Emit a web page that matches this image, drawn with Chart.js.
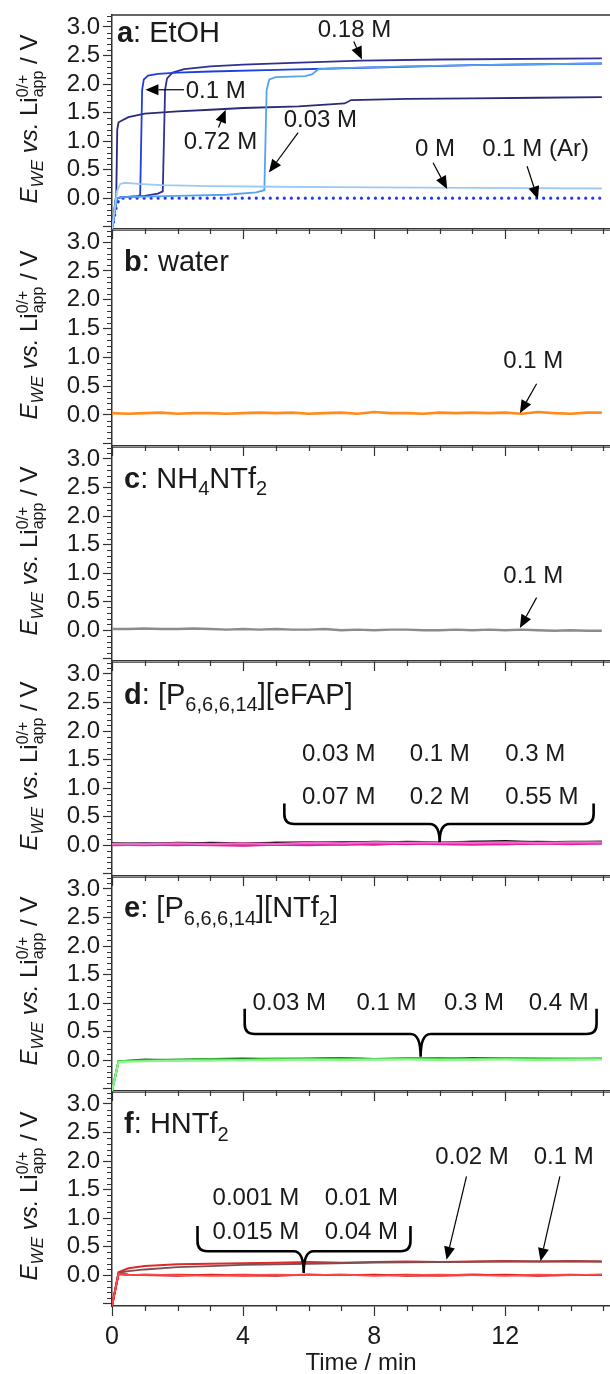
<!DOCTYPE html>
<html>
<head>
<meta charset="utf-8">
<script src="https://cdn.jsdelivr.net/npm/chart.js@4.4.1/dist/chart.umd.min.js"></script>
<style>
  html, body { margin: 0; padding: 0; background: #fff; overflow: hidden; }
  #wrap { position: relative; width: 610px; height: 1374px; }
  #wrap canvas { position: absolute; left: 0; }
</style>
</head>
<body>
<div id="wrap"></div>
<script>
const FONT = "'Liberation Sans', Arial, Helvetica, sans-serif";
const INK = '#1a1a1a';

// axes
const timeTicks = [0, 4, 8, 12];
const voltTicks = [-0.5, 0, 0.5, 1, 1.5, 2, 2.5, 3];
const timeMax = 15.2;
const voltMin = -0.54, voltMax = 3.21;

// a: EtOH  [time / min, E / V]
const etoh072M = [[0,-0.54],[0.1,-0.05],[0.13,0.05],[0.16,1.2],[0.2,1.33],[0.5,1.42],[1,1.48],[2,1.52],[3,1.55],[4,1.58],[5.7,1.61],[7.1,1.66],[7.3,1.72],[9,1.74],[11,1.75],[13,1.76],[14.95,1.77]];
const etoh01M = [[0,-0.54],[0.15,0.0],[0.3,0.02],[0.8,0.03],[0.86,0.06],[0.92,1.9],[0.97,2.08],[1.1,2.15],[1.4,2.18],[2,2.2],[3,2.22],[5,2.25],[8,2.29],[11,2.33],[14.95,2.36]];
const etoh018M = [[0,-0.54],[0.15,0.0],[0.3,0.02],[1,0.04],[1.4,0.08],[1.55,0.12],[1.62,1.9],[1.68,2.1],[1.85,2.2],[2.2,2.26],[3,2.31],[4,2.34],[5.5,2.37],[7.6,2.41],[10,2.43],[14.95,2.45]];
const etoh003M = [[0,-0.54],[0.15,0.0],[0.3,0.02],[2,0.04],[3.5,0.06],[4.4,0.1],[4.65,0.14],[4.72,1.9],[4.8,2.08],[5,2.12],[5.9,2.14],[6.1,2.17],[6.3,2.26],[7,2.28],[9,2.31],[12,2.34],[14.95,2.36]];
const etoh0M = [[0,-0.54],[0.1,-0.1],[0.15,0.12],[0.25,0.25],[0.4,0.27],[0.8,0.25],[1.5,0.23],[3,0.21],[5,0.2],[8,0.19],[11,0.18],[14.95,0.17]];
const etoh01MAr = [[0,-0.54],[0.15,-0.1],[0.25,0.0],[1,0.0],[5,0.0],[10,0.0],[14.95,0.0]];

// b: water
const water01M = [[0,0.03],[0.5,0.02],[1,0.03],[1.5,0.04],[2,0.02],[2.5,0.03],[3,0.03],[3.5,0.02],[4,0.03],[4.5,0.04],[5,0.03],[5.5,0.04],[6,0.02],[6.5,0.03],[7,0.04],[7.5,0.02],[8,0.05],[8.5,0.03],[9,0.03],[9.5,0.02],[10,0.04],[10.5,0.03],[11,0.04],[11.5,0.03],[12,0.04],[12.5,0.02],[13,0.05],[13.5,0.03],[14,0.02],[14.5,0.04],[14.95,0.04]];

// c: NH4NTf2
const nh4ntf201M = [[0,0.02],[0.5,0.02],[1,0.03],[1.5,0.02],[2,0.02],[2.5,0.03],[3,0.02],[3.5,0.01],[4,0.02],[4.5,0.01],[5,0.02],[5.5,0.01],[6,0.01],[6.5,0.02],[7,0.0],[7.5,0.01],[8,0.0],[8.5,0.01],[9,0.01],[9.5,0.0],[10,0.0],[10.5,0.01],[11,0.0],[11.5,0.01],[12,0.0],[12.5,0.01],[13,0.0],[13.5,-0.01],[14,0.0],[14.5,-0.01],[14.95,-0.01]];

// d: [P66614][eFAP]
const efap003M = [[0,0.02],[1,0.02],[2,0.03],[3,0.02],[4,0.03],[5,0.02],[6,0.04],[7,0.03],[8,0.05],[9,0.04],[10,0.05],[11,0.04],[12,0.05],[13,0.04],[14,0.05],[14.95,0.05]];
const efap007M = [[0,0.01],[1,0.0],[2,0.01],[3,0.0],[4,-0.01],[5,0.01],[6,0.0],[7,0.02],[8,0.01],[9,0.03],[10,0.02],[11,0.01],[12,0.02],[13,0.03],[14,0.02],[14.95,0.03]];
const efap01M = [[0,0.02],[1,0.03],[2,0.02],[3,0.04],[4,0.03],[5,0.04],[6,0.03],[7,0.05],[8,0.04],[9,0.06],[10,0.05],[11,0.06],[12,0.05],[13,0.06],[14,0.05],[14.95,0.06]];
const efap02M = [[0,0.0],[1,0.01],[2,0.0],[3,0.02],[4,0.0],[5,0.01],[6,0.02],[7,0.01],[8,0.03],[9,0.02],[10,0.04],[11,0.03],[12,0.02],[13,0.03],[14,0.04],[14.95,0.03]];
const efap03M = [[0,0.03],[1,0.02],[2,0.04],[3,0.03],[4,0.02],[5,0.04],[6,0.05],[7,0.04],[8,0.06],[9,0.05],[10,0.04],[11,0.06],[12,0.07],[13,0.05],[14,0.06],[14.95,0.06]];
const efap055M = [[0,0.01],[1,0.02],[2,0.01],[3,0.01],[4,0.03],[5,0.02],[6,0.01],[7,0.03],[8,0.02],[9,0.04],[10,0.03],[11,0.05],[12,0.04],[13,0.04],[14,0.03],[14.95,0.04]];

// e: [P66614][NTf2]
const ntf2003M = [[0,-0.54],[0.2,-0.03],[1,-0.02],[2,-0.01],[3,-0.01],[4,0.0],[5,0.0],[6,0.01],[7,0.0],[8,0.01],[9,0.01],[10,0.0],[11,0.01],[12,0.01],[13,0.0],[14,0.01],[14.95,0.01]];
const ntf201M = [[0,-0.54],[0.2,-0.02],[1,-0.01],[2,0.0],[3,0.01],[4,0.0],[5,0.02],[6,0.01],[7,0.02],[8,0.01],[9,0.02],[10,0.02],[11,0.01],[12,0.02],[13,0.02],[14,0.01],[14.95,0.02]];
const ntf203M = [[0,-0.54],[0.2,-0.02],[1,0.0],[2,0.01],[3,0.02],[4,0.01],[5,0.03],[6,0.02],[7,0.03],[8,0.02],[9,0.03],[10,0.04],[11,0.02],[12,0.03],[13,0.02],[14,0.03],[14.95,0.02]];
const ntf204M = [[0,-0.54],[0.2,-0.02],[1,0.01],[2,0.0],[3,0.02],[4,0.03],[5,0.02],[6,0.03],[7,0.04],[8,0.02],[9,0.03],[10,0.02],[11,0.04],[12,0.03],[13,0.03],[14,0.02],[14.95,0.03]];

// f: HNTf2
const hntf20001M = [[0,-0.54],[0.2,0.03],[0.5,0.0],[1,0.01],[2,0.0],[3,-0.01],[4,0.0],[5,0.01],[6,0.0],[7,0.01],[8,-0.01],[9,0.0],[10,0.01],[11,0.0],[12,-0.01],[13,0.01],[14,0.0],[14.95,0.01]];
const hntf2001M = [[0,-0.54],[0.2,0.02],[0.5,0.01],[1,0.0],[2,0.01],[3,0.0],[4,0.01],[5,0.0],[6,0.01],[7,0.0],[8,0.0],[9,0.01],[10,0.0],[11,0.01],[12,0.0],[13,0.0],[14,0.01],[14.95,0.0]];
const hntf20015M = [[0,-0.54],[0.2,0.03],[0.5,0.01],[1,0.0],[2,-0.01],[3,0.01],[4,0.0],[5,-0.01],[6,0.01],[7,0.0],[8,0.01],[9,-0.01],[10,0.0],[11,0.01],[12,0.0],[13,-0.01],[14,0.0],[14.95,0.01]];
const hntf2004M = [[0,-0.54],[0.2,0.02],[0.5,0.0],[1,0.01],[2,0.0],[3,0.0],[4,-0.01],[5,0.0],[6,0.0],[7,0.01],[8,0.0],[9,0.0],[10,-0.01],[11,0.0],[12,0.01],[13,0.0],[14,0.0],[14.95,0.0]];
const hntf2002M = [[0,-0.54],[0.2,0.04],[0.5,0.07],[1,0.1],[2,0.14],[3,0.16],[4,0.18],[6,0.2],[8,0.22],[10,0.23],[12,0.24],[14.95,0.24]];
const hntf201M = [[0,-0.54],[0.2,0.05],[0.5,0.12],[1,0.16],[2,0.19],[3,0.2],[4,0.21],[5,0.22],[6,0.23],[7,0.22],[8,0.23],[9,0.24],[10,0.23],[11,0.24],[12,0.25],[13,0.24],[14,0.25],[14.95,0.24]];

// panel frame tops/bottoms in page pixels
const panelTops = [15, 230, 447, 662, 877, 1092];
const panelBottoms = [229, 446, 661, 876, 1091, 1306];

const panels = [
  {
    label: [['a', 'b'], [': EtOH', 'n']], labelAt: [0.15, 2.745],
    series: [
      { data: etoh0M, color: '#9dcaf4' },
      { data: etoh003M, color: '#55a2f2' },
      { data: etoh01M, color: '#1f3ede' },
      { data: etoh018M, color: '#30308f' },
      { data: etoh072M, color: '#2a2a78' },
      { data: etoh01MAr, color: '#1f3cf0', width: 3.2, dash: [0.01, 7] }
    ],
    notes: [['0.18 M', 7.4, 2.83, 'center'], ['0.1 M', 2.25, 1.76, 'left'], ['0.72 M', 3.31, 0.855, 'center'],
            ['0.03 M', 6.36, 1.24, 'center'], ['0 M', 9.86, 0.74, 'center'], ['0.1 M (Ar)', 12.93, 0.74, 'center']],
    arrows: [[7.38, 2.745, 7.63, 2.43], [2.2, 1.9, 1.02, 1.9], [3.25, 1.24, 3.47, 1.55],
             [5.68, 1.15, 4.79, 0.45], [9.8, 0.62, 10.23, 0.16], [12.67, 0.56, 13.0, -0.02]],
    braces: []
  },
  {
    label: [['b', 'b'], [': water', 'n']], labelAt: [0.37, 2.5],
    series: [{ data: water01M, color: '#ff8a1e', width: 2.6 }],
    notes: [['0.1 M', 12.86, 0.82, 'center']],
    arrows: [[12.96, 0.54, 12.45, 0.03]],
    braces: []
  },
  {
    label: [['c', 'b'], [': NH', 'n'], ['4', 's'], ['NTf', 'n'], ['2', 's']], labelAt: [0.37, 2.5],
    series: [{ data: nh4ntf201M, color: '#8c8c8c', width: 2.4 }],
    notes: [['0.1 M', 12.86, 0.83, 'center']],
    arrows: [[12.96, 0.57, 12.45, 0.04]],
    braces: []
  },
  {
    label: [['d', 'b'], [': [P', 'n'], ['6,6,6,14', 's'], ['][eFAP]', 'n']], labelAt: [0.37, 2.48],
    series: [
      { data: efap003M, color: '#f06ac8', width: 2.2 }, { data: efap007M, color: '#d9259f', width: 2.2 },
      { data: efap01M, color: '#3a0a2c', width: 2.2 }, { data: efap02M, color: '#b01883', width: 2.2 },
      { data: efap03M, color: '#1f0518', width: 2.2 }, { data: efap055M, color: '#d21a98', width: 2.2 }
    ],
    notes: [['0.03 M', 5.8, 1.48, 'left'], ['0.1 M', 9.09, 1.48, 'left'], ['0.3 M', 12.0, 1.48, 'left'],
            ['0.07 M', 5.8, 0.72, 'left'], ['0.2 M', 9.09, 0.72, 'left'], ['0.55 M', 12.0, 0.72, 'left']],
    arrows: [],
    braces: [[5.26, 14.7, 10.0, 0.73, 0.37, 0.05]]
  },
  {
    label: [['e', 'b'], [': [P', 'n'], ['6,6,6,14', 's'], ['][NTf', 'n'], ['2', 's'], [']', 'n']], labelAt: [0.37, 2.51],
    series: [
      { data: ntf2003M, color: '#8cf58c', width: 2 }, { data: ntf201M, color: '#4cd64c', width: 2 },
      { data: ntf203M, color: '#2e9e2e', width: 2 }, { data: ntf204M, color: '#1d5e1d', width: 2 }
    ],
    notes: [['0.03 M', 4.29, 0.88, 'left'], ['0.1 M', 7.46, 0.88, 'left'], ['0.3 M', 10.13, 0.88, 'left'], ['0.4 M', 12.72, 0.88, 'left']],
    arrows: [],
    braces: [[4.05, 14.79, 9.42, 0.9, 0.46, 0.06]]
  },
  {
    label: [['f', 'b'], [': HNTf', 'n'], ['2', 's']], labelAt: [0.37, 2.49],
    series: [
      { data: hntf20001M, color: '#ff4a4a' }, { data: hntf2001M, color: '#e01414' },
      { data: hntf20015M, color: '#c00808' }, { data: hntf2004M, color: '#e42020' },
      { data: hntf2002M, color: '#7a5050' }, { data: hntf201M, color: '#e02a2a', width: 2 }
    ],
    notes: [['0.001 M', 3.07, 1.23, 'left'], ['0.01 M', 6.49, 1.23, 'left'], ['0.015 M', 3.07, 0.64, 'left'],
            ['0.04 M', 6.49, 0.64, 'left'], ['0.02 M', 9.87, 1.95, 'left'], ['0.1 M', 12.87, 1.95, 'left']],
    arrows: [[10.82, 1.73, 10.21, 0.27], [13.67, 1.73, 13.08, 0.245]],
    braces: [[2.61, 9.11, 5.85, 0.86, 0.42, 0.04]]
  }
];

function drawRich(ctx, segs, x, y, size) {
  let cx = x;
  for (const [t, k] of segs) {
    const sz = k === 's' ? Math.round(size * 0.7) : size;
    ctx.font = (k === 'b' ? 'bold ' : '') + sz + 'px ' + FONT;
    ctx.fillText(t, cx, y + (k === 's' ? size * 0.27 : 0));
    cx += ctx.measureText(t).width;
  }
}

function yTitle(ctx, cx, cy) {
  const F = (s, it) => (it ? 'italic ' : '') + s + 'px ' + FONT;
  const runs = [
    { t: 'E', f: F(24, true), dy: 0 },
    { t: 'WE', f: F(17, true), dy: 6 },
    { t: ' vs. ', f: F(24, true), dy: 0 },
    { t: 'Li', f: F(24), dy: 0 },
    { t: '0/+', f: F(16), dy: -9, under: 'app', udy: 6 },
    { t: ' / V', f: F(24), dy: 0 }
  ];
  ctx.save();
  ctx.translate(cx, cy);
  ctx.rotate(-Math.PI / 2);
  ctx.fillStyle = INK;
  ctx.textAlign = 'left';
  ctx.textBaseline = 'alphabetic';
  let w = 0;
  for (const r of runs) {
    ctx.font = r.f;
    r.w = Math.max(ctx.measureText(r.t).width, r.under ? ctx.measureText(r.under).width : 0);
    w += r.w;
  }
  let x = -w / 2;
  for (const r of runs) {
    ctx.font = r.f;
    ctx.fillText(r.t, x, r.dy);
    if (r.under) ctx.fillText(r.under, x, r.udy);
    x += r.w;
  }
  ctx.restore();
}

function arrow(ctx, x0, y0, x1, y1) {
  const ang = Math.atan2(y1 - y0, x1 - x0), L = 13, W = 5.5;
  const bx = x1 - L * Math.cos(ang), by = y1 - L * Math.sin(ang);
  ctx.lineWidth = 1.2;
  ctx.beginPath(); ctx.moveTo(x0, y0); ctx.lineTo(bx, by); ctx.stroke();
  ctx.beginPath();
  ctx.moveTo(x1, y1);
  ctx.lineTo(bx + W * Math.sin(ang), by - W * Math.cos(ang));
  ctx.lineTo(bx - W * Math.sin(ang), by + W * Math.cos(ang));
  ctx.closePath(); ctx.fill();
}

function brace(ctx, xl, xr, xm, yTop, yBar, yTip) {
  const r = Math.min(10, yBar - yTop);
  ctx.lineWidth = 2.6;
  ctx.beginPath();
  ctx.moveTo(xl, yTop);
  ctx.lineTo(xl, yBar - r);
  ctx.quadraticCurveTo(xl, yBar, xl + r, yBar);
  ctx.lineTo(xm - r, yBar);
  ctx.quadraticCurveTo(xm, yBar, xm, yTip);
  ctx.quadraticCurveTo(xm, yBar, xm + r, yBar);
  ctx.lineTo(xr - r, yBar);
  ctx.quadraticCurveTo(xr, yBar, xr, yBar - r);
  ctx.lineTo(xr, yTop);
  ctx.stroke();
}

function makeDecor(p, last) {
  return {
    id: 'panelDecor',
    afterDraw(chart) {
      const { ctx, chartArea: a, scales: { x, y } } = chart;
      ctx.save();
      ctx.strokeStyle = '#333';
      ctx.fillStyle = INK;
      // top frame line
      ctx.lineWidth = 1.5;
      ctx.beginPath(); ctx.moveTo(a.left, a.top); ctx.lineTo(a.right, a.top); ctx.stroke();
      // minor ticks
      ctx.lineWidth = 1.2;
      ctx.beginPath();
      for (let i = -5; i <= 32; i++) {
        if (i % 5 === 0) continue;
        const py = Math.round(y.getPixelForValue(i / 10)) + 0.5;
        ctx.moveTo(a.left - 5, py); ctx.lineTo(a.left, py);
      }
      for (let i = 1; i <= 15; i++) {
        if (i % 4 === 0) continue;
        const px = Math.round(x.getPixelForValue(i)) + 0.5;
        ctx.moveTo(px, a.bottom); ctx.lineTo(px, a.bottom + 5);
      }
      ctx.stroke();
      // y title
      yTitle(ctx, 37, (a.top + a.bottom) / 2 - 3);
      // panel label
      ctx.textAlign = 'left';
      ctx.textBaseline = 'alphabetic';
      drawRich(ctx, p.label, x.getPixelForValue(p.labelAt[0]), y.getPixelForValue(p.labelAt[1]), 29);
      // notes
      ctx.font = '24px ' + FONT;
      for (const [t, tx, ty, al] of p.notes) {
        ctx.textAlign = al;
        ctx.fillText(t, x.getPixelForValue(tx), y.getPixelForValue(ty));
      }
      ctx.strokeStyle = '#000';
      ctx.fillStyle = '#000';
      for (const [t0, v0, t1, v1] of p.arrows) {
        arrow(ctx, x.getPixelForValue(t0), y.getPixelForValue(v0), x.getPixelForValue(t1), y.getPixelForValue(v1));
      }
      for (const [tl, tr, tm, vTop, vBar, vTip] of p.braces) {
        brace(ctx, x.getPixelForValue(tl), x.getPixelForValue(tr), x.getPixelForValue(tm),
              y.getPixelForValue(vTop), y.getPixelForValue(vBar), y.getPixelForValue(vTip));
      }
      if (last) {
        ctx.fillStyle = INK;
        ctx.textAlign = 'center';
        ctx.font = '24px ' + FONT;
        ctx.fillText('Time / min', (a.left + a.right) / 2, a.bottom + 64);
      }
      ctx.restore();
    }
  };
}

const wrap = document.getElementById('wrap');

panels.forEach((p, idx) => {
  const last = idx === panels.length - 1;
  const canvasTop = idx === 0 ? 0 : panelTops[idx];
  const padTop = panelTops[idx] - canvasTop;
  const areaH = panelBottoms[idx] - panelTops[idx];
  const xh = last ? 1374 - panelBottoms[idx] : 11;
  const c = document.createElement('canvas');
  c.width = 610;
  c.height = padTop + areaH + xh;
  c.style.top = canvasTop + 'px';
  wrap.appendChild(c);

  new Chart(c, {
    type: 'line',
    data: {
      datasets: p.series.map(s => ({
        data: s.data.map(([t, v]) => ({ x: t, y: v })),
        borderColor: s.color,
        borderWidth: s.width || 1.8,
        borderDash: s.dash || [],
        borderCapStyle: s.dash ? 'round' : 'butt',
        pointRadius: 0,
        tension: 0,
        fill: false
      }))
    },
    options: {
      responsive: false,
      animation: false,
      events: [],
      layout: { padding: { top: padTop, right: 0, bottom: 0, left: 0 } },
      plugins: { legend: { display: false }, tooltip: { enabled: false } },
      scales: {
        x: {
          type: 'linear', min: 0, max: timeMax, position: 'bottom',
          afterBuildTicks: s => { s.ticks = timeTicks.map(v => ({ value: v })); },
          afterFit: s => { s.height = xh; s.paddingLeft = 0; s.paddingRight = 0; },
          ticks: { display: last, padding: 6, maxRotation: 0, autoSkip: false, color: INK,
                   font: { family: FONT, size: 25 }, callback: v => String(v) },
          grid: { drawOnChartArea: false, drawTicks: true, tickLength: 10, tickColor: '#333', tickWidth: 1.2 },
          border: { display: true, color: '#333', width: 1.5 }
        },
        y: {
          type: 'linear', min: voltMin, max: voltMax,
          afterBuildTicks: s => { s.ticks = voltTicks.map(v => ({ value: v })); },
          afterFit: s => { s.width = 112; s.paddingTop = 0; s.paddingBottom = 0; },
          ticks: { padding: 3, autoSkip: false, color: INK, font: { family: FONT, size: 24 },
                   callback: v => (v >= 0 ? v.toFixed(1) : '') },
          grid: { drawOnChartArea: false, drawTicks: true, tickLength: 9, tickColor: '#333', tickWidth: 1.2 },
          border: { display: true, color: '#333', width: 1.5 }
        }
      }
    },
    plugins: [makeDecor(p, last)]
  });
});
</script>
</body>
</html>
